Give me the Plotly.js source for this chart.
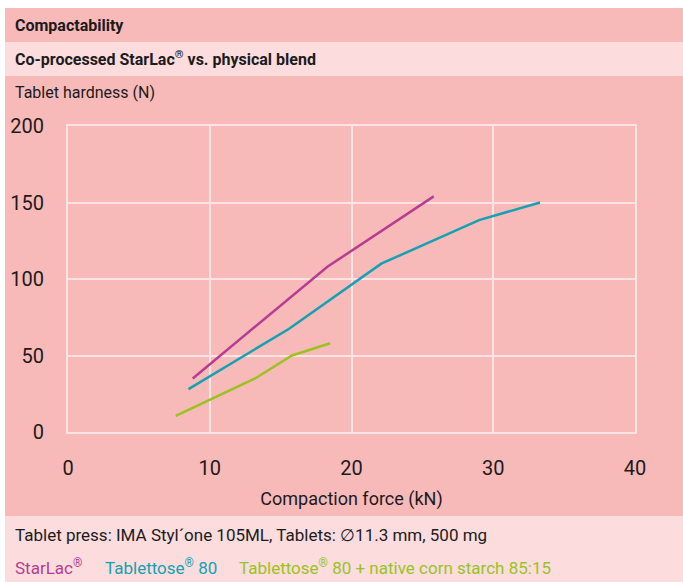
<!DOCTYPE html>
<html><head><meta charset="utf-8">
<script src="https://cdn.plot.ly/plotly-3.0.1.min.js"></script>
<style>html,body{margin:0;padding:0;background:#fff;}#chart{width:683px;height:582px;}</style>
</head><body><div id="chart"></div>
<script>
// Data
const starlacForce = [8.8, 18.3, 25.8];
const starlacHardness = [35, 108, 154];
const tablettoseForce = [8.5, 15.6, 22.1, 29.0, 33.3];
const tablettoseHardness = [28, 67.5, 110, 138.5, 150];
const blendForce = [7.6, 13.2, 15.8, 18.5];
const blendHardness = [10.5, 35, 50, 58];
const xTicks = [0, 10, 20, 30, 40];
const yTicks = [0, 50, 100, 150, 200];

const W = 683, H = 582;
const L = 68, R = 635, T = 126, B = 432;
const px = x => (x - L) / (R - L);
const py = y => (B - y) / (B - T);
const FONT = 'Roboto, "Liberation Sans", sans-serif';
const DARK = '#f8b9b9', LIGHT = '#fcdcdd', GRID = '#fde3e3', TXT = '#1b1b1b';

function band(y0, y1, color) {
  return {type: 'rect', xref: 'paper', yref: 'paper', layer: 'below',
    x0: px(5), x1: px(W), y0: py(y1), y1: py(y0), fillcolor: color, line: {width: 0}};
}
function label(text, x, y, size, color, bold) {
  return {xref: 'paper', yref: 'paper', x: px(x), y: py(y), xanchor: 'left', yanchor: 'middle',
    showarrow: false, text: bold ? '<b>' + text + '</b>' : text,
    font: {family: FONT, size: size, color: color || TXT}};
}

const traces = [
  {x: starlacForce, y: starlacHardness, mode: 'lines', line: {color: '#b83d92', width: 2.5}, name: 'StarLac'},
  {x: tablettoseForce, y: tablettoseHardness, mode: 'lines', line: {color: '#12a2b3', width: 2.5}, name: 'Tablettose 80'},
  {x: blendForce, y: blendHardness, mode: 'lines', line: {color: '#99c31f', width: 2.5}, name: 'Blend'}
];

const layout = {
  width: W, height: H, showlegend: false,
  paper_bgcolor: '#ffffff', plot_bgcolor: 'rgba(0,0,0,0)',
  margin: {l: L, r: W - R, t: T, b: H - B, pad: 0},
  font: {family: FONT, color: TXT},
  xaxis: {range: [0, 40], tickvals: xTicks, showgrid: true, gridcolor: GRID, gridwidth: 2,
    zeroline: false, showline: true, linecolor: GRID, linewidth: 2, mirror: true,
    ticks: '', ticklabelstandoff: 17, tickfont: {family: FONT, size: 20, color: TXT},
    title: {text: 'Compaction force (kN)', font: {family: FONT, size: 18, color: TXT}, standoff: 13}},
  yaxis: {range: [0, 200], tickvals: yTicks, showgrid: true, gridcolor: GRID, gridwidth: 2,
    zeroline: false, showline: true, linecolor: GRID, linewidth: 2, mirror: true,
    ticks: '', ticklabelstandoff: 18, tickfont: {family: FONT, size: 20, color: TXT}},
  shapes: [
    band(8, 42, DARK),
    band(42, 76, LIGHT),
    band(76, 516, DARK),
    band(516, 582, LIGHT)
  ],
  annotations: [
    label('Compactability', 13, 25, 16, TXT, true),
    label('Co-processed StarLac<sup>®</sup> vs. physical blend', 13, 59, 16, TXT, true),
    label('Tablet hardness (N)', 13, 93, 16, TXT, false),
    label('Tablet press: IMA Styl´one 105ML, Tablets: ∅11.3 mm, 500 mg', 13, 535, 17, TXT, false),
    label('StarLac<sup>®</sup>', 13, 567, 17, '#b83d92', false),
    label('Tablettose<sup>®</sup> 80', 103, 567, 17, '#12a2b3', false),
    label('Tablettose<sup>®</sup> 80 + native corn starch 85:15', 237, 567, 17, '#99c31f', false)
  ]
};

Plotly.newPlot('chart', traces, layout, {displayModeBar: false, staticPlot: true});
</script></body></html>
